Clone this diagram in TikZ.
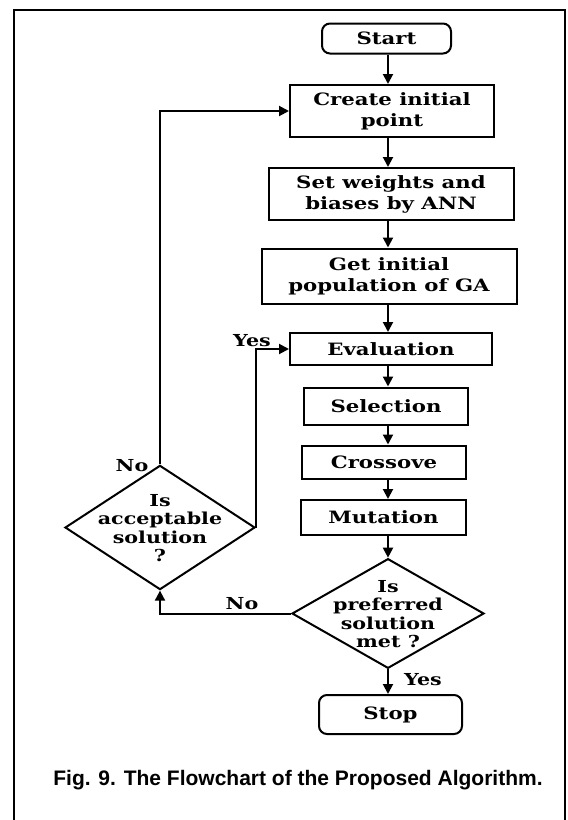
\documentclass[tikz,border=0pt]{standalone}
\usepackage{fontspec}
\usepackage{tikz}
\usetikzlibrary{shapes.geometric,arrows.meta}

\newfontfamily\chartfont[FakeStretch=1.25]{DejaVu Serif}
\newfontfamily\captionfont{Liberation Sans}
\newcommand{\asktext}[1]{\smash{\raisebox{-7pt}{\begin{tabular}{@{}c@{}}#1\end{tabular}}}}

\tikzset{
	box/.style={draw, line width=2pt, inner sep=0pt, align=center,
		font=\chartfont\bfseries\fontsize{17}{21}\selectfont},
	terminal/.style={box, rounded corners=8pt},
	decision/.style={diamond, draw, line width=2pt, inner sep=0pt,
		font=\chartfont\bfseries\fontsize{16.5}{18.5}\selectfont},
	answer/.style={font=\chartfont\bfseries\fontsize{16.5}{18}\selectfont},
	flow/.style={->, line width=2pt}
}

\begin{document}
\begin{tikzpicture}[x=1pt, y=-1pt, >={Triangle[length=10pt,width=10pt]}]

	\useasboundingbox (0,0) rectangle (568,820);
	\draw[line width=2pt] (14,820) -- (14,10) -- (565,10) -- (565,820);

	\coordinate (axis) at (388,0);

	\node[terminal, minimum width=129pt, minimum height=30pt] (start) at (386.5,38.5) {Start};
	\node[box, minimum width=204pt, minimum height=52pt] (create) at (392,111) {Create initial\\point};
	\node[box, minimum width=245pt, minimum height=52pt] (set) at (391,194) {Set weights and\\biases by ANN};
	\node[box, minimum width=255pt, minimum height=55pt] (getpop) at (389,276) {Get initial\\population of GA};
	\node[box, minimum width=202pt, minimum height=32pt] (eval) at (391,349) {Evaluation};
	\node[box, minimum width=164pt, minimum height=37pt] (sel) at (386,406) {Selection};
	\node[box, minimum width=164pt, minimum height=33pt] (cross) at (384,462) {Crossove};
	\node[box, minimum width=165pt, minimum height=35pt] (mut) at (383.5,517.5) {Mutation};
	\node[decision, minimum width=192pt, minimum height=101pt] (pref) at (388,613.5)
		{\asktext{Is\\preferred\\solution\\met ?}};
	\node[terminal, minimum width=143pt, minimum height=39pt] (stop) at (390.5,714.5) {Stop};

	\node[decision, minimum width=190pt, minimum height=101pt] (accept) at (160,527.5)
		{\asktext{Is\\acceptable\\solution\\?}};

	\node[answer] (no1) at (132,466) {No};
	\node[answer] (yes1) at (252,341) {Yes};
	\node[answer] (no2) at (242,604) {No};
	\node[answer] (yes2) at (423,680) {Yes};

	\draw[flow] (start.south -| axis) -- (create.north -| axis);
	\draw[flow] (create.south -| axis) -- (set.north -| axis);
	\draw[flow] (set.south -| axis) -- (getpop.north -| axis);
	\draw[flow] (getpop.south -| axis) -- (eval.north -| axis);
	\draw[flow] (eval.south -| axis) -- (sel.north -| axis);
	\draw[flow] (sel.south -| axis) -- (cross.north -| axis);
	\draw[flow] (cross.south -| axis) -- (mut.north -| axis);
	\draw[flow] (mut.south -| axis) -- (pref.north);
	\draw[flow] (pref.south) -- (stop.north -| pref.south);

	\draw[flow] (accept.north) |- (create.west);
	\draw[flow] (accept.east) |- (eval.west);
	\draw[flow] (pref.west) -| (accept.south);

	\node[font=\captionfont\bfseries\fontsize{21}{25}\selectfont] (caption) at (298,780)
		{Fig. 9. The Flowchart of the Proposed Algorithm.};

\end{tikzpicture}
\end{document}
